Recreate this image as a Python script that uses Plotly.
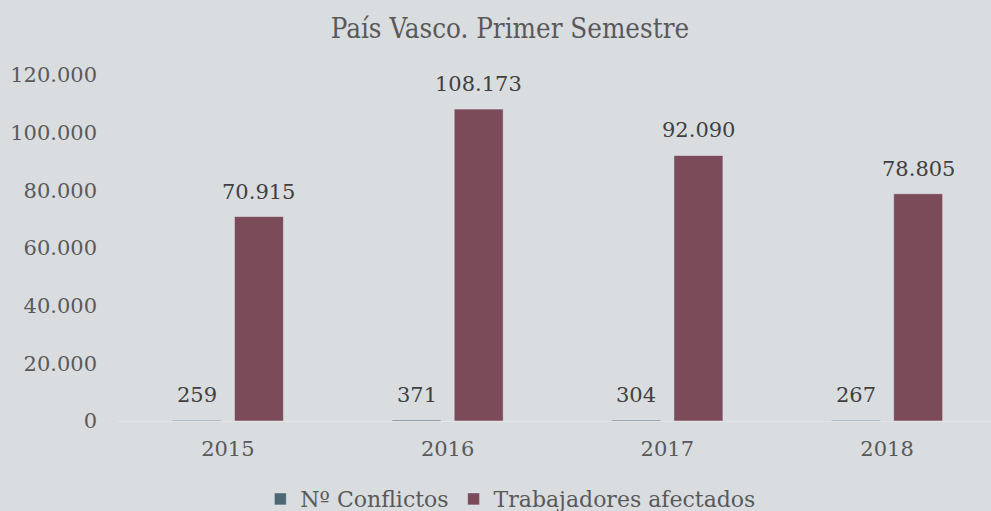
import plotly.graph_objects as go

years = ["2015", "2016", "2017", "2018"]
conflictos = [259, 371, 304, 267]
trabajadores = [70915, 108173, 92090, 78805]
y_ticks = [0, 20000, 40000, 60000, 80000, 100000, 120000]

BG = "#d9dde0"
C_CONF = "#4e6873"
C_TRAB = "#7b4b59"
FONT = "DejaVu Serif"

def fmt(v):
    return f"{v:,}".replace(",", ".")

W = 0.223
OFF_C = -0.253
OFF_T = 0.03

fig = go.Figure()
fig.add_trace(go.Bar(name="Nº Conflictos", x=years, y=conflictos, marker_color=C_CONF,
                     width=W, offset=OFF_C))
fig.add_trace(go.Bar(name="Trabajadores afectados", x=years, y=trabajadores, marker_color=C_TRAB,
                     width=W, offset=OFF_T))

ann = []
for i, (c, t) in enumerate(zip(conflictos, trabajadores)):
    ann.append(dict(x=i, y=c, text=fmt(c), xref="x", yref="y", showarrow=False,
                    yanchor="bottom", xshift=-31, yshift=11,
                    font=dict(family=FONT, size=21, color="#404040")))
    ann.append(dict(x=i, y=t, text=fmt(t), xref="x", yref="y", showarrow=False,
                    yanchor="bottom", xshift=31, yshift=11,
                    font=dict(family=FONT, size=21, color="#404040")))

fig.update_layout(
    width=991, height=511,
    paper_bgcolor=BG, plot_bgcolor=BG,
    margin=dict(l=118, r=0, t=75, b=90, autoexpand=False),
    separators=",.",
    barmode="overlay",
    title=dict(text="País Vasco. Primer Semestre", x=0.5146, xanchor="center", y=0.945, yanchor="middle",
               font=dict(family="DejaVu Serif Condensed", size=27.5, color="#595959")),
    showlegend=True,
    legend=dict(orientation="h", x=0.45, xanchor="center", y=-0.165, yanchor="top",
                font=dict(family=FONT, size=22, color="#595959"), bgcolor="rgba(0,0,0,0)",
                itemwidth=30),
    annotations=ann,
)
fig.update_xaxes(type="category", range=[-0.5, 3.473], showgrid=False, zeroline=False,
                 showline=True, linecolor="#e4e4e4", linewidth=1,
                 ticks="", ticklabelstandoff=9,
                 tickfont=dict(family=FONT, size=21, color="#595959"))
fig.update_yaxes(range=[0, 120000], tickvals=y_ticks, tickformat=",.0f", showgrid=False,
                 zeroline=False, showline=False, ticks="", ticklabelstandoff=20,
                 tickfont=dict(family=FONT, size=21, color="#595959"))

fig.write_html("out.html", config={"displayModeBar": False},
               post_script="document.body.style.margin='0';document.body.style.overflow='hidden';")
